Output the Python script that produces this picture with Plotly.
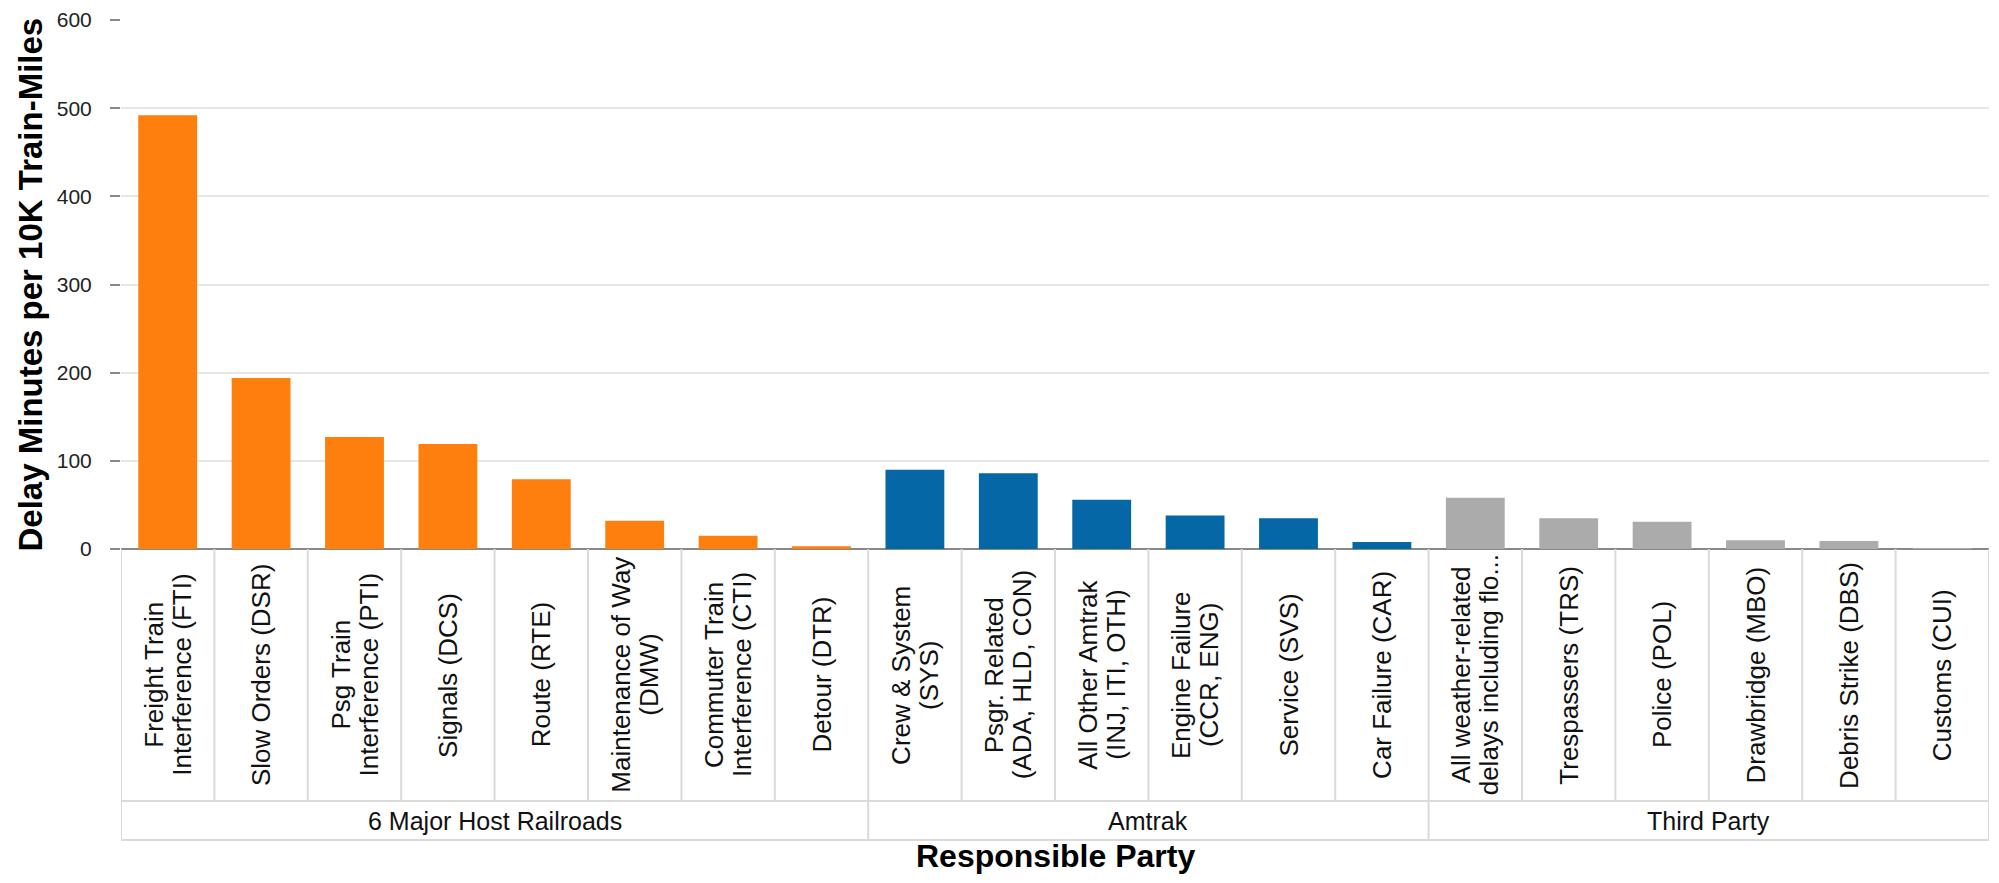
import plotly.graph_objects as go

# ---- data ----
groups = ["6 Major Host Railroads", "Amtrak", "Third Party"]
host_labels = ["Freight Train<br>Interference (FTI)", "Slow Orders (DSR)", "Psg Train<br>Interference (PTI)",
               "Signals (DCS)", "Route (RTE)", "Maintenance of Way<br>(DMW)",
               "Commuter Train<br>Interference (CTI)", "Detour (DTR)"]
host_values = [492, 194, 127, 119, 79, 32, 15, 3]
amtrak_labels = ["Crew & System<br>(SYS)", "Psgr. Related<br>(ADA, HLD, CON)", "All Other Amtrak<br>(INJ, ITI, OTH)",
                 "Engine Failure<br>(CCR, ENG)", "Service (SVS)", "Car Failure (CAR)"]
amtrak_values = [90, 86, 56, 38, 35, 8]
third_labels = ["All weather-related<br>delays including flo...", "Trespassers (TRS)", "Police (POL)",
                "Drawbridge (MBO)", "Debris Strike (DBS)", "Customs (CUI)"]
third_values = [58, 35, 31, 10, 9, 0.5]
group_colors = ["#FF7F0E", "#0567A5", "#ABABAB"]
y_ticks = [0, 100, 200, 300, 400, 500, 600]

labels = host_labels + amtrak_labels + third_labels
values = host_values + amtrak_values + third_values
group_sizes = [len(host_values), len(amtrak_values), len(third_values)]
colors = []
for c, n in zip(group_colors, group_sizes):
    colors += [c] * n
xs = list(range(len(values)))

# page body has an 8px default margin; keep the page inside the 1999x883 window
W, H = 1999 - 16, 883 - 16
ML, MR, MT, MB = 113, 2, 12, 326
PH = H - MT - MB

def py(px_below):
    return -px_below / PH

FONT = "Liberation Sans, Arial, sans-serif"

fig = go.Figure(go.Bar(x=xs, y=values, marker=dict(color=colors, line=dict(width=0)),
                       width=0.63, hoverinfo="skip"))

cell_h = 252
grp_h = 39
grid_col = "#DADADA"
shapes = []
n = len(values)
for i in range(n + 1):
    shapes.append(dict(type="line", xref="x", yref="paper", x0=i - 0.5, x1=i - 0.5,
                       y0=0, y1=py(cell_h), line=dict(color=grid_col, width=2)))
b = -0.5
bounds = [b]
for s in group_sizes:
    b += s
    bounds.append(b)
for bx in bounds:
    shapes.append(dict(type="line", xref="x", yref="paper", x0=bx, x1=bx,
                       y0=py(cell_h), y1=py(cell_h + grp_h), line=dict(color=grid_col, width=2)))
for yy in [cell_h, cell_h + grp_h]:
    shapes.append(dict(type="line", xref="x", yref="paper", x0=-0.5, x1=n - 0.5,
                       y0=py(yy), y1=py(yy), line=dict(color=grid_col, width=2)))

annotations = []
pitch = 28
for x, lab in zip(xs, labels):
    lines = lab.split("<br>")
    k = len(lines)
    for j, ln in enumerate(lines):
        annotations.append(dict(x=x, y=py(cell_h / 2), xref="x", yref="paper", text=ln, textangle=-90,
                                xshift=(j - (k - 1) / 2) * pitch,
                                showarrow=False, xanchor="center", yanchor="middle",
                                font=dict(family=FONT, size=26, color="#111")))
start = 0
for g, s in zip(groups, group_sizes):
    annotations.append(dict(x=start + (s - 1) / 2, y=py(cell_h + grp_h / 2), xref="x", yref="paper",
                            text=g, showarrow=False, xanchor="center", yanchor="middle",
                            font=dict(family=FONT, size=25, color="#111")))
    start += s
annotations.append(dict(x=0.5, y=py(307), xref="paper", yref="paper", text="<b>Responsible Party</b>",
                        showarrow=False, xanchor="center", yanchor="middle",
                        font=dict(family=FONT, size=32, color="#000")))
annotations.append(dict(x=0, y=0.5, xref="paper", yref="paper", xshift=-91,
                        text="<b>Delay Minutes per 10K Train-Miles</b>", textangle=-90,
                        showarrow=False, xanchor="center", yanchor="middle",
                        font=dict(family=FONT, size=33, color="#000")))

fig.update_layout(
    width=W, height=H, margin=dict(l=ML, r=MR, t=MT, b=MB),
    plot_bgcolor="white", paper_bgcolor="white", showlegend=False,
    shapes=shapes, annotations=annotations,
    xaxis=dict(range=[-0.5, n - 0.5], showticklabels=False, ticks="", showgrid=False,
               zeroline=False, showline=False, fixedrange=True, automargin=False),
    yaxis=dict(range=[0, 600], tickvals=y_ticks, ticks="outside", ticklen=10, tickwidth=2,
               tickcolor="#888", showgrid=True, gridcolor="#E6E6E6", gridwidth=2,
               zeroline=True, zerolinecolor="#888", zerolinewidth=2, showline=False,
               ticklabeloverflow="allow", automargin=False,
               tickfont=dict(family=FONT, size=21, color="#222"), ticklabelstandoff=14),
)
fig.write_html("out.html")
